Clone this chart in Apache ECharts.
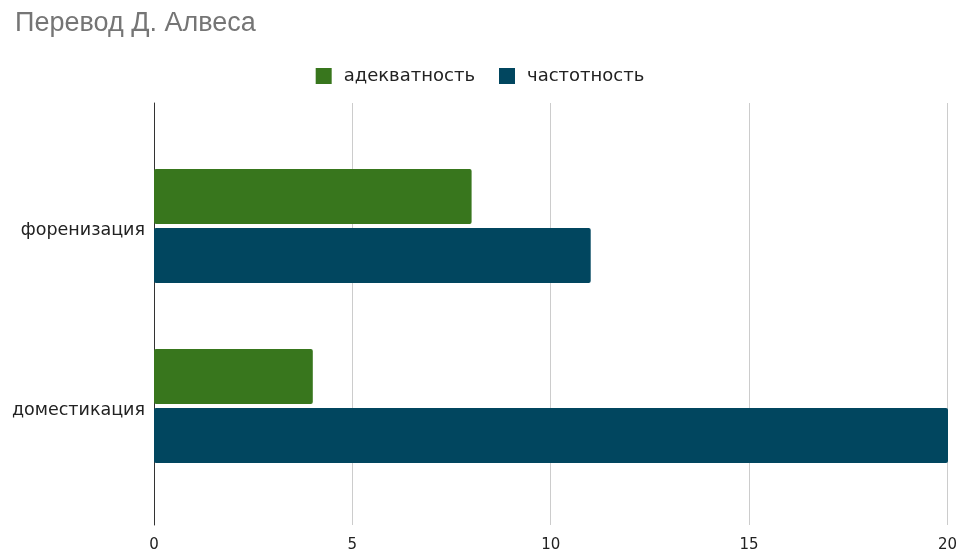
<!DOCTYPE html>
<html>
<head>
<meta charset="utf-8">
<script src="https://cdn.jsdelivr.net/npm/echarts@6/dist/echarts.min.js"></script>
<style>
  html, body { margin: 0; padding: 0; background: #fff; }
  #chart { width: 960px; height: 553px; }
</style>
</head>
<body>
<div id="chart"></div>
<script>
// Categories and series values
const categories = ['форенизация', 'доместикация'];
const adequacy = [8, 4];
const frequency = [11, 20];
const seriesNames = ['адекватность', 'частотность'];
const xTicks = [0, 5, 10, 15, 20];

const TITLE_FONT = '"Liberation Sans", Arial, sans-serif';
const FONT = '"DejaVu Sans", sans-serif';
const chart = echarts.init(document.getElementById('chart'), null, { renderer: 'canvas' });

chart.setOption({
  animation: false,
  title: {
    text: 'Перевод Д. Алвеса',
    left: 10,
    top: 5,
    textStyle: { fontFamily: TITLE_FONT, fontSize: 27, fontWeight: 'normal', color: '#757575' }
  },
  legend: {
    data: seriesNames,
    top: 62,
    left: 'center',
    itemWidth: 16,
    itemHeight: 16,
    itemGap: 24,
    icon: 'rect',
    textStyle: { fontFamily: FONT, fontSize: 18, color: '#222', padding: [0, 0, 0, 7] }
  },
  grid: [
    // frame grid: split lines and the left axis line
    { left: 154, right: 12, top: 103, bottom: 25 },
    // bar grid
    { left: 154, right: 12, top: 136, bottom: 57 }
  ],
  xAxis: [
    {
      gridIndex: 0, type: 'value', min: xTicks[0], max: xTicks[xTicks.length - 1], interval: 5,
      axisLine: { show: false }, axisTick: { show: false },
      axisLabel: { fontFamily: FONT, fontSize: 15, color: '#222', margin: 13 },
      splitLine: { lineStyle: { color: '#cccccc', width: 1 } }
    },
    {
      gridIndex: 1, type: 'value', min: xTicks[0], max: xTicks[xTicks.length - 1],
      show: false, splitLine: { show: false }
    }
  ],
  yAxis: [
    {
      gridIndex: 0, type: 'value', min: 0, max: 1,
      axisLine: { show: true, lineStyle: { color: '#333', width: 1 } },
      axisTick: { show: false }, axisLabel: { show: false }, splitLine: { show: false }
    },
    {
      gridIndex: 1, type: 'category', data: categories, inverse: true,
      axisLine: { show: false }, axisTick: { show: false },
      axisLabel: {
        margin: 9,
        formatter: (v) => '{c|' + v + '}',
        rich: {
          c: { fontFamily: FONT, fontSize: 17.5, color: '#222', padding: [8, 0, 0, 0] }
        }
      }
    }
  ],
  series: [
    {
      name: seriesNames[0], type: 'bar', xAxisIndex: 1, yAxisIndex: 1,
      data: adequacy, barWidth: 55, barGap: '7%',
      itemStyle: { color: '#38761d', borderRadius: 2 }
    },
    {
      name: seriesNames[1], type: 'bar', xAxisIndex: 1, yAxisIndex: 1,
      data: frequency, barWidth: 55, barGap: '7%',
      itemStyle: { color: '#01465f', borderRadius: 2 }
    }
  ]
});
</script>
</body>
</html>
